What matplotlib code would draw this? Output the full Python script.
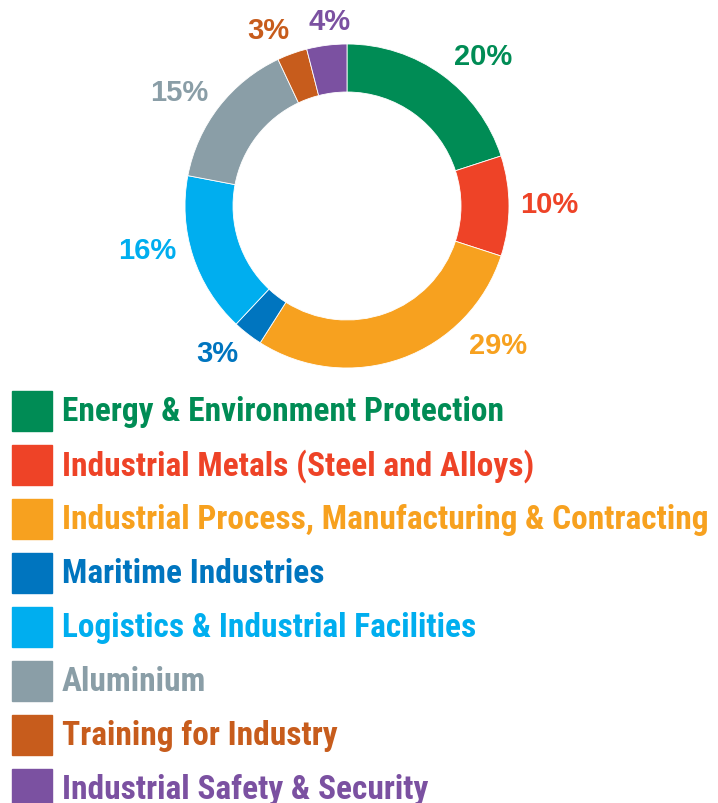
import matplotlib
matplotlib.use("Agg")
import matplotlib.pyplot as plt
from matplotlib.patches import Rectangle
from matplotlib import font_manager
import numpy as np

categories = [
    "Energy & Environment Protection",
    "Industrial Metals (Steel and Alloys)",
    "Industrial Process, Manufacturing & Contracting",
    "Maritime Industries",
    "Logistics & Industrial Facilities",
    "Aluminium",
    "Training for Industry",
    "Industrial Safety & Security",
]
values = [20, 10, 29, 3, 16, 15, 3, 4]
pct_labels = ["20%", "10%", "29%", "3%", "16%", "15%", "3%", "4%"]
colors = ["#008C55", "#EE4327", "#F7A11F", "#0075BF", "#00AEEF", "#8A9EA7", "#C75C1C", "#7B51A1"]

# label placement tweaks (styling only): angular nudge in degrees, radial factor
label_nudge = [-6, 1, 28, -4, -6, 3, 4, -2]
label_rad = [1.26, 1.25, 1.26, 1.20, 1.26, 1.26, 1.20, 1.16]

bold_fonts = {f.name for f in font_manager.fontManager.ttflist if f.weight in (700, "bold")}
narrow = next((n for n in ["Roboto Condensed", "Asap Condensed", "Fira Sans Condensed",
                           "PT Sans Narrow", "Liberation Sans Narrow"] if n in bold_fonts), "DejaVu Sans")
wide = "Liberation Sans"

W, H = 718, 804
fig = plt.figure(figsize=(W / 100, H / 100), dpi=100)
ax = fig.add_axes([0, 0, 1, 1])

cx, cy, R = 347, H - 207, 162
wedges, _ = ax.pie(
    values, colors=colors, startangle=90, counterclock=False,
    center=(cx, cy), radius=R,
    wedgeprops=dict(width=48, edgecolor="white", linewidth=0.6),
)
for w, lab, c, dn, rf in zip(wedges, pct_labels, colors, label_nudge, label_rad):
    ang = np.deg2rad((w.theta1 + w.theta2) / 2 + dn)
    ax.text(cx + rf * R * np.cos(ang), cy + rf * R * np.sin(ang) - 2, lab, color=c,
            fontsize=21, fontweight="bold", family=wide, ha="center", va="center")

ax.set_xlim(0, W)
ax.set_ylim(0, H)
ax.set_aspect("equal")
ax.axis("off")

top0, step, sq = 392, 54, 40
for i, (name, c) in enumerate(zip(categories, colors)):
    top = top0 + i * step
    ax.add_patch(Rectangle((12, H - top - sq), sq, sq, color=c))
    ax.text(62, H - top - sq / 2, name, color=c, fontsize=24, fontweight="bold",
            family=narrow, ha="left", va="center")

fig.savefig("out.png", dpi=100)
